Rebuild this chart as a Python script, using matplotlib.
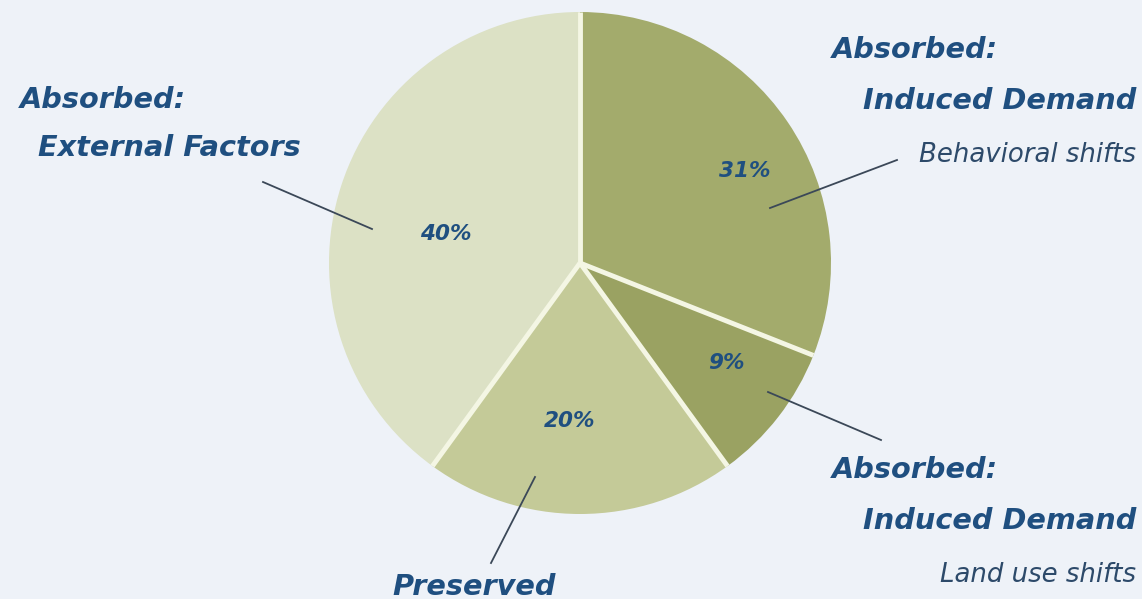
import numpy as np
import matplotlib.pyplot as plt

# Share of the added capacity, clockwise from the top
shares = [31, 9, 20, 40]
slice_colors = ["#a3ab6c", "#9aa262", "#c4ca98", "#dce1c5"]
# where each percentage is printed (px, top-left origin)
pct_pos = [(745, 171), (726, 363), (570, 421), (446, 234)]

W, H = 1142, 599
BG = "#eef2f8"
NAVY = "#1f4f80"
LINE = "#3b4858"

fig = plt.figure(figsize=(W / 100, H / 100), dpi=100, facecolor=BG)
ax = fig.add_axes([0, 0, 1, 1])


def py(y):
    # flip a top-left pixel row into axes y
    return H - y


cx, cy, r = 580, py(263), 251
wedges, _ = ax.pie(shares, colors=slice_colors, startangle=90, counterclock=False,
                   radius=r, center=(cx, cy), frame=True,
                   wedgeprops=dict(linewidth=0))
# pale dividers between slices only (no outer rim)
for w in wedges:
    a = np.deg2rad(w.theta1)
    ax.plot([cx, cx + r * np.cos(a)], [cy, cy + r * np.sin(a)],
            color="#f4f6e4", lw=3.5, solid_capstyle="butt")

ax.set_xlim(0, W)
ax.set_ylim(0, H)
ax.set_aspect("equal")
ax.axis("off")

bold = dict(family="DejaVu Sans", weight="bold", style="oblique", color=NAVY)
light = dict(family="DejaVu Sans", weight="normal", style="oblique", color="#2d4a6a")
BIG, SMALL = 20.7, 18.7

for v, (x, y) in zip(shares, pct_pos):
    ax.text(x, py(y), f"{v}%", fontsize=15.5, ha="center", va="center", **bold)

# callout text
ax.text(20, py(100), "Absorbed:", fontsize=BIG, ha="left", va="center", **bold)
ax.text(38, py(148), "External Factors", fontsize=BIG, ha="left", va="center", **bold)

ax.text(832, py(50), "Absorbed:", fontsize=BIG, ha="left", va="center", **bold)
ax.text(1136, py(101), "Induced Demand", fontsize=BIG, ha="right", va="center", **bold)
ax.text(1136, py(155), "Behavioral shifts", fontsize=SMALL, ha="right", va="center", **light)

ax.text(832, py(470), "Absorbed:", fontsize=BIG, ha="left", va="center", **bold)
ax.text(1136, py(521), "Induced Demand", fontsize=BIG, ha="right", va="center", **bold)
ax.text(1136, py(575), "Land use shifts", fontsize=SMALL, ha="right", va="center", **light)

ax.text(392, py(587), "Preserved", fontsize=BIG, ha="left", va="center", **bold)

# leader lines
leaders = [((263, 182), (372, 229)),
           ((897, 160), (770, 208)),
           ((768, 392), (881, 440)),
           ((535, 477), (491, 563))]
for (x0, y0), (x1, y1) in leaders:
    ax.plot([x0, x1], [py(y0), py(y1)], color=LINE, lw=1.3)

fig.savefig("out.png", dpi=100, facecolor=BG)
